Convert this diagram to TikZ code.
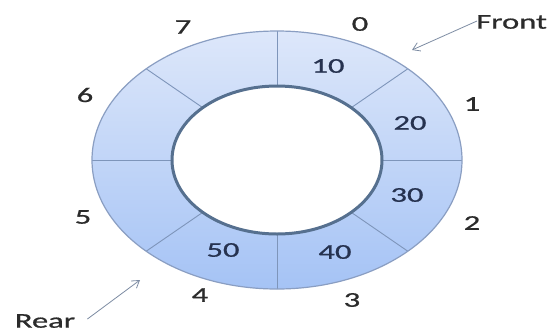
\documentclass[tikz,border=0pt]{standalone}
\usepackage{fontspec}
\setmainfont{Carlito}
\newfontfamily\ringfont{Carlito}[FakeBold=0.7]
\usetikzlibrary{arrows.meta}
\definecolor{ringtop}{HTML}{DDE7FA}
\definecolor{ringbot}{HTML}{A5C3F5}
\definecolor{outerline}{HTML}{8A9EC2}
\definecolor{innerline}{HTML}{56708F}
\definecolor{spokecol}{HTML}{7E95BA}
\definecolor{labelcol}{HTML}{2B2B2B}
\definecolor{valcol}{HTML}{26324F}
\definecolor{arrowcol}{HTML}{7D8CA3}
\tikzset{
  idxlabel/.style={font=\ringfont\fontsize{21}{21}\selectfont, text=labelcol, inner sep=0pt, xscale=1.55},
  vallabel/.style={font=\ringfont\fontsize{21}{21}\selectfont, text=valcol, inner sep=0pt, xscale=1.55},
  pointer/.style={draw=arrowcol, line width=0.8pt, -{Straight Barb[length=7pt,width=9pt]}},
  spoke/.style={draw=spokecol, line width=0.9pt}
}
\begin{document}
\begin{tikzpicture}[x=1pt,y=-1pt]
\useasboundingbox (0,0) rectangle (551,333);
\fill[white] (0,0) rectangle (551,333);
\coordinate (c) at (277,160);
% ring
\shade[top color=ringtop, bottom color=ringbot, even odd rule]
  (c) ellipse [x radius=185pt, y radius=129pt]
  (c) ellipse [x radius=105pt, y radius=74pt];
% spokes
\begin{scope}[shift={(c)}]
  \foreach \a in {0,45,...,315}{
    \draw[spoke] (\a:105pt and 74pt) -- (\a:185pt and 129pt);
  }
\end{scope}
\draw[outerline, line width=1.2pt] (c) ellipse [x radius=185pt, y radius=129pt];
\draw[innerline, line width=3pt] (c) ellipse [x radius=105pt, y radius=74pt];
% index labels
\node[idxlabel] (i0) at (360,24) {0};
\node[idxlabel] (i1) at (472,104) {1};
\node[idxlabel] (i2) at (472,223) {2};
\node[idxlabel] (i3) at (352,300) {3};
\node[idxlabel] (i4) at (200,295) {4};
\node[idxlabel] (i5) at (83,217) {5};
\node[idxlabel] (i6) at (85,95) {6};
\node[idxlabel] (i7) at (183,27) {7};
% values
\node[vallabel] (v10) at (328,66) {10};
\node[vallabel] (v20) at (410,123) {20};
\node[vallabel] (v30) at (407,195) {30};
\node[vallabel] (v40) at (335,252) {40};
\node[vallabel] (v50) at (223,250) {50};
% pointers
\node[idxlabel, anchor=west] (front) at (476,22) {Front};
\node[idxlabel] (rear) at (45,321) {Rear};
\coordinate (ftip) at (412,50);
\coordinate (rtip) at (140,280);
\draw[pointer] (front.west) ++(1,-1) -- (ftip);
\draw[pointer] (rear.east) ++(12,-2) -- (rtip);
\end{tikzpicture}
\end{document}
